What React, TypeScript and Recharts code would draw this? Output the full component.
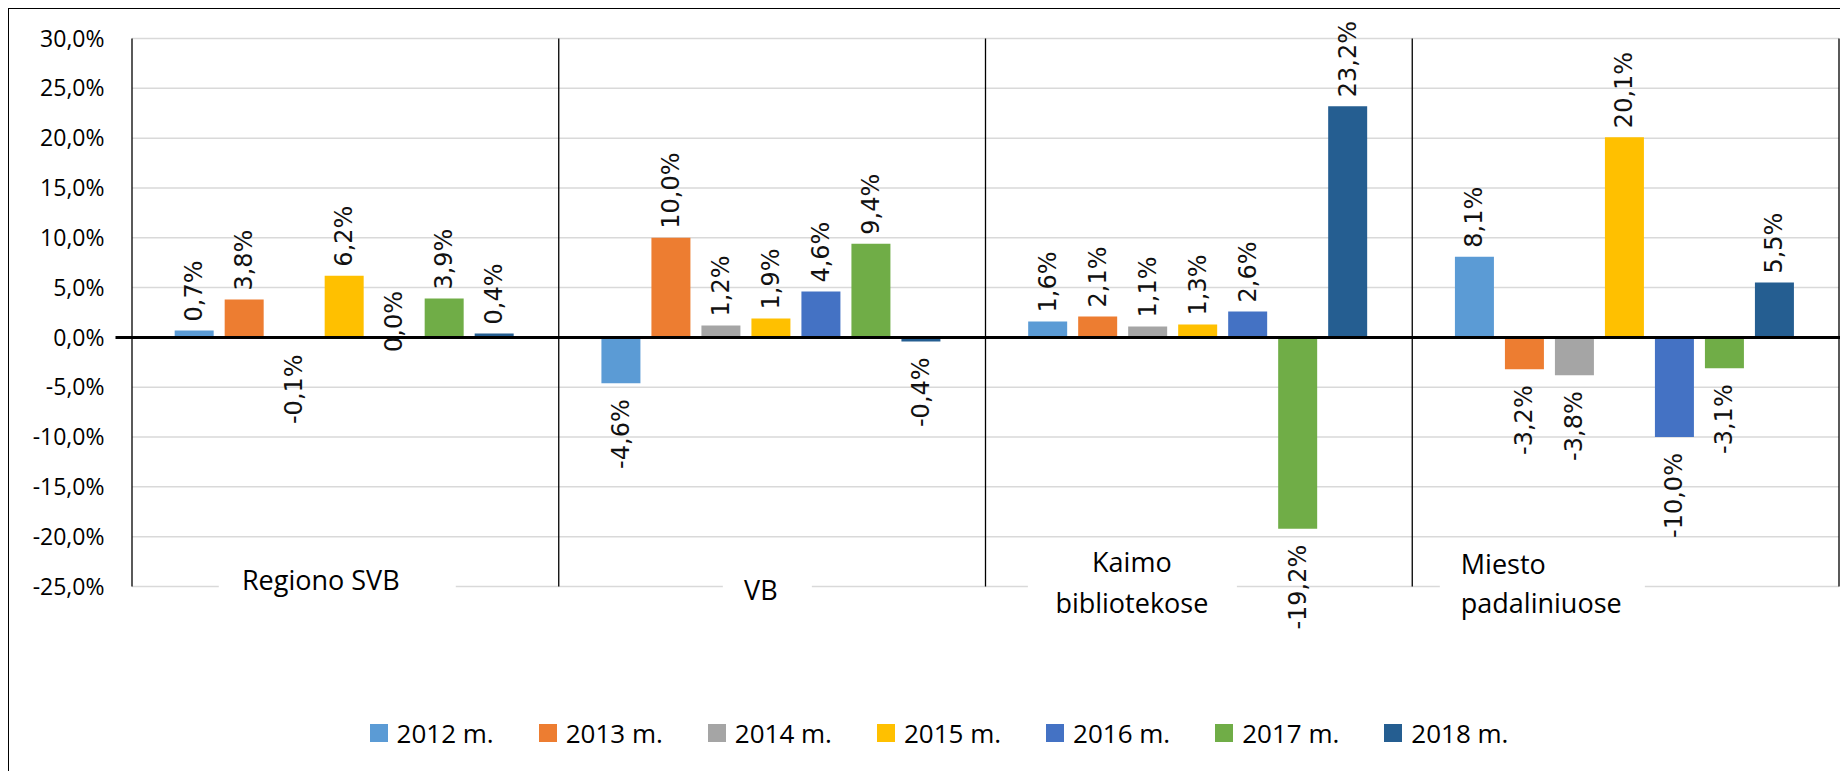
import React from 'react';
import { BarChart, Bar, XAxis, YAxis, CartesianGrid, Legend, LabelList, ReferenceLine } from 'recharts';

// ---- data ----
const categories = ['Regiono SVB', 'VB', 'Kaimo bibliotekose', 'Miesto padaliniuose'];
const seriesNames = ['2012 m.', '2013 m.', '2014 m.', '2015 m.', '2016 m.', '2017 m.', '2018 m.'];
const v2012 = [0.7, -4.6, 1.6, 8.1];
const v2013 = [3.8, 10.0, 2.1, -3.2];
const v2014 = [-0.1, 1.2, 1.1, -3.8];
const v2015 = [6.2, 1.9, 1.3, 20.1];
const v2016 = [0.0, 4.6, 2.6, -10.0];
const v2017 = [3.9, 9.4, -19.2, -3.1];
const v2018 = [0.4, -0.4, 23.2, 5.5];
const yTicks = [-25, -20, -15, -10, -5, 0, 5, 10, 15, 20, 25, 30];

// ---- styles ----
const seriesColors = ['#5B9BD5', '#ED7D31', '#A5A5A5', '#FFC000', '#4472C4', '#70AD47', '#255E91'];
const AXIS_FONT = '"Open Sans", "DejaVu Sans", sans-serif';
const LABEL_FONT = '"DejaVu Sans", Verdana, sans-serif';
// category label placement relative to the category centre (style only)
const LABEL_LAYOUT = [
  { boxDx: -126.6, boxW: 237, textDx: -24.6, anchor: 'middle', dys: [-7] },
  { boxDx: -49.3, boxW: 89, textDx: -11.3, anchor: 'middle', dys: [3] },
  { boxDx: -171, boxW: 209, textDx: -67, anchor: 'middle', dys: [-25, 16] },
  { boxDx: -185.8, boxW: 205, textDx: -164.8, anchor: 'start', dys: [-23, 15.5] },
];

const seriesValues = [v2012, v2013, v2014, v2015, v2016, v2017, v2018];
const data = categories.map((c, i) => {
  const row: any = { name: c };
  seriesValues.forEach((arr, s) => {
    row['s' + s] = arr[i];
  });
  return row;
});

const fmt = (v: number) => v.toFixed(1).replace('.', ',') + '%';

const wrapLabel = (s: string) => (s.length > 12 ? s.split(' ') : [s]);

const CategoryTick = (props: any) => {
  const { x, y, payload } = props;
  let i = typeof props.index === 'number' ? props.index : categories.indexOf(payload?.value);
  if (i < 0 || i >= LABEL_LAYOUT.length) i = categories.indexOf(payload?.value);
  const L = LABEL_LAYOUT[i] || LABEL_LAYOUT[0];
  const lines = wrapLabel(String(payload?.value ?? ''));
  return (
    <g>
      <rect x={x + L.boxDx} y={y - 5} width={L.boxW} height={10} fill="#fff" />
      {lines.map((ln, k) => (
        <text
          key={k}
          x={x + L.textDx}
          y={y + (L.dys[k] ?? 0)}
          textAnchor={L.anchor as any}
          dominantBaseline="central"
          fontFamily={AXIS_FONT}
          fontSize={27}
          fill="#000"
        >
          {ln}
        </text>
      ))}
    </g>
  );
};

const DataLabel = (props: any) => {
  const vb = props.viewBox && typeof props.viewBox.x === 'number' ? props.viewBox : props;
  const x = Number(vb.x ?? props.x);
  const y = Number(vb.y ?? props.y);
  const w = Number(vb.width ?? props.width);
  const h = Number(vb.height ?? props.height ?? 0);
  const v = Number(props.value);
  if (!isFinite(x) || !isFinite(y) || !isFinite(v)) return null;
  const cx = x + w / 2;
  const top = Math.min(y, y + h);
  const bot = Math.max(y, y + h);
  let ay: number;
  let anchor: string;
  if (v > 0) {
    ay = top - 9;
    anchor = 'start';
  } else if (v < 0) {
    ay = bot + 16;
    anchor = 'end';
  } else {
    ay = top - 16;
    anchor = 'middle';
  }
  return (
    <text
      x={cx}
      y={ay}
      transform={`rotate(-90 ${cx} ${ay})`}
      textAnchor={anchor as any}
      dominantBaseline="central"
      fontFamily={LABEL_FONT}
      fontSize={24}
      fill="#111"
    >
      {fmt(v)}
    </text>
  );
};

const renderLegend = (props: any) => {
  const payload = props.payload || [];
  return (
    <div
      style={{
        display: 'flex',
        justifyContent: 'center',
        alignItems: 'center',
        height: 40,
        fontFamily: AXIS_FONT,
        fontSize: 26,
        color: '#000',
      }}
    >
      {payload.map((p: any, i: number) => (
        <div
          key={i}
          style={{ display: 'flex', alignItems: 'center', marginRight: i < payload.length - 1 ? 45 : 0 }}
        >
          <span style={{ display: 'inline-block', width: 18, height: 18, background: p.color, marginRight: 9 }} />
          <span style={{ whiteSpace: 'nowrap' }}>{p.value}</span>
        </div>
      ))}
    </div>
  );
};

const ZeroLine = (props: any) => (
  <line x1={props.x1 - 16.5} y1={props.y1} x2={props.x2 + 40} y2={props.y2} stroke="#000" strokeWidth={3} />
);

const boundaryGenerator = (args: any) => {
  const o = args.offset;
  const n = categories.length;
  return Array.from({ length: n + 1 }, (_, i) => o.left + (o.width * i) / n);
};

// keep zero-valued bars in the layout (hair-thin) so their data label is still drawn
const keepZero = (v: any) => (Number(v) === 0 ? 0.01 : 0);

export default function App() {
  return (
    <div style={{ width: 1840, height: 763, overflow: 'hidden', position: 'relative', background: '#fff' }}>
      <div style={{ width: 1900, height: 800, border: '1.5px solid #000', boxSizing: 'border-box', background: '#fff' }}>
        <BarChart
          width={1896}
          height={796}
          data={data}
          margin={{ top: 29.5, right: 66, bottom: 188.5, left: 0 }}
          barCategoryGap="10%"
          barGap={11}
        >
          <CartesianGrid vertical={false} stroke="#d9d9d9" strokeWidth={1.5} />
          <CartesianGrid
            horizontal={false}
            stroke="#000"
            strokeWidth={1.3}
            verticalCoordinatesGenerator={boundaryGenerator}
          />
          <XAxis
            dataKey="name"
            axisLine={false}
            tickLine={false}
            tickSize={0}
            tickMargin={0}
            height={30}
            interval={0}
            tick={<CategoryTick />}
          />
          <YAxis
            width={123}
            domain={[-25, 30]}
            ticks={yTicks}
            allowDataOverflow
            axisLine={false}
            tickLine={false}
            tickSize={0}
            tickMargin={27.5}
            tickFormatter={fmt}
            tick={{ fontFamily: AXIS_FONT, fontSize: 23, fill: '#000' }}
          />
          {seriesNames.map((n, s) => (
            <Bar
              key={n}
              dataKey={'s' + s}
              name={n}
              fill={seriesColors[s]}
              minPointSize={keepZero as any}
              isAnimationActive={false}
            >
              <LabelList dataKey={'s' + s} content={<DataLabel />} />
            </Bar>
          ))}
          <ReferenceLine y={0} shape={ZeroLine} ifOverflow="visible" />
          <Legend
            verticalAlign="middle"
            layout="horizontal"
            content={renderLegend}
            wrapperStyle={{ top: 703.5, left: 0, width: 1860, height: 40, bottom: 'auto', right: 'auto' }}
          />
        </BarChart>
      </div>
    </div>
  );
}
